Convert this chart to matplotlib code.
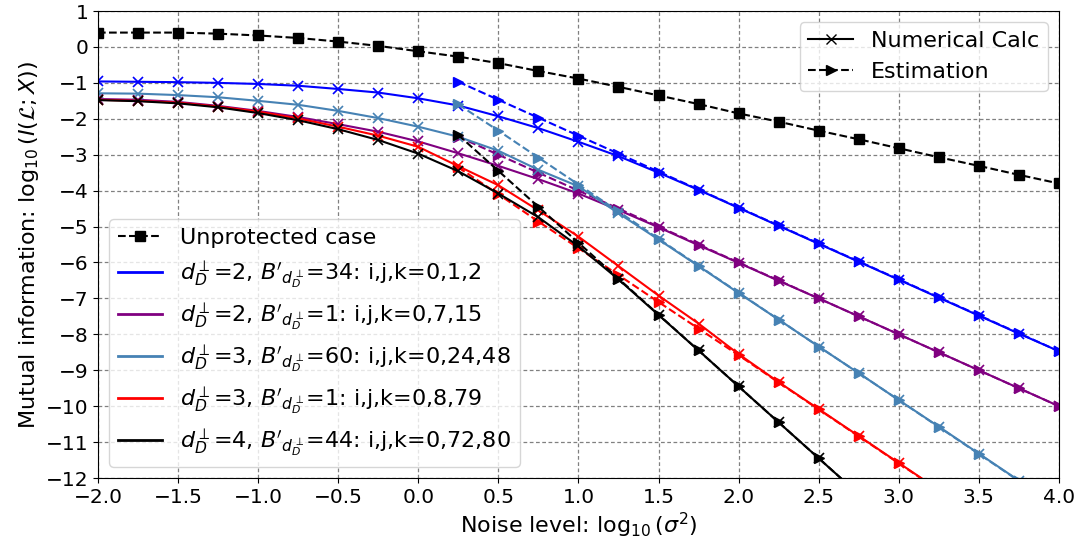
import matplotlib
matplotlib.use("Agg")
import matplotlib.pyplot as plt
from matplotlib.lines import Line2D

# x grid (log10 sigma^2)
x_all = [-2.0, -1.75, -1.5, -1.25, -1.0, -0.75, -0.5, -0.25, 0.0, 0.25, 0.5, 0.75,
         1.0, 1.25, 1.5, 1.75, 2.0, 2.25, 2.5, 2.75, 3.0, 3.25, 3.5, 3.75, 4.0]
x_est = [0.25, 0.5, 0.75, 1.0, 1.25, 1.5, 1.75, 2.0, 2.25, 2.5, 2.75, 3.0,
         3.25, 3.5, 3.75, 4.0]

unprotected = [0.40, 0.40, 0.40, 0.37, 0.32, 0.25, 0.15, 0.03, -0.12, -0.27, -0.45, -0.67,
               -0.88, -1.11, -1.35, -1.59, -1.85, -2.08, -2.33, -2.57, -2.82, -3.07, -3.31, -3.56, -3.80]

blue_num = [-0.96, -0.97, -0.98, -1.00, -1.03, -1.08, -1.17, -1.27, -1.43, -1.63, -1.93, -2.26,
            -2.64, -3.04, -3.50, -3.98, -4.48, -4.98, -5.48, -5.98, -6.48, -6.98, -7.48, -7.98, -8.47]
blue_est = [-0.97, -1.47, -1.97, -2.47, -2.97, -3.47, -3.97, -4.47, -4.97, -5.47, -5.97, -6.47,
            -6.97, -7.47, -7.97, -8.47]

purple_num = [-1.45, -1.47, -1.53, -1.64, -1.78, -1.95, -2.15, -2.36, -2.63, -2.96, -3.31, -3.68,
              -4.08, -4.54, -5.02, -5.52, -6.01, -6.51, -7.00, -7.50, -8.00, -8.50, -9.00, -9.50, -10.00]
purple_est = [-2.50, -3.00, -3.50, -4.00, -4.50, -5.00, -5.50, -6.00, -6.50, -7.00, -7.50, -8.00,
              -8.50, -9.00, -9.50, -10.00]

steel_num = [-1.29, -1.30, -1.34, -1.40, -1.50, -1.61, -1.78, -1.98, -2.22, -2.50, -2.89, -3.42,
             -3.88, -4.63, -5.36, -6.10, -6.85, -7.59, -8.34, -9.08, -9.83, -10.57, -11.32, -12.07]
steel_est = [-1.60, -2.33, -3.08, -3.83, -4.58, -5.34, -6.09, -6.84, -7.59, -8.34, -9.08, -9.83,
             -10.58, -11.33, -12.08]

red_num = [-1.47, -1.50, -1.55, -1.66, -1.80, -1.99, -2.22, -2.47, -2.78, -3.32, -3.85, -4.55,
           -5.28, -6.10, -6.92, -7.70, -8.55, -9.33, -10.08, -10.83, -11.58, -12.33]
red_est = [-3.35, -4.10, -4.86, -5.60, -6.35, -7.10, -7.84, -8.58, -9.34, -10.09, -10.84, -11.59,
           -12.34]

black_num = [-1.48, -1.51, -1.57, -1.68, -1.84, -2.04, -2.29, -2.59, -2.97, -3.46, -4.08, -4.74,
             -5.55, -6.47, -7.46, -8.45, -9.45, -10.45, -11.45, -12.45]
black_est = [-2.45, -3.45, -4.45, -5.45, -6.45, -7.45, -8.45, -9.45, -10.45, -11.45, -12.45]

series = [
    (blue_num, blue_est, "blue", r"$d_D^\perp$=2, $B'_{d_D^\perp}$=34: i,j,k=0,1,2"),
    (purple_num, purple_est, "purple", r"$d_D^\perp$=2, $B'_{d_D^\perp}$=1: i,j,k=0,7,15"),
    (steel_num, steel_est, "steelblue", r"$d_D^\perp$=3, $B'_{d_D^\perp}$=60: i,j,k=0,24,48"),
    (red_num, red_est, "red", r"$d_D^\perp$=3, $B'_{d_D^\perp}$=1: i,j,k=0,8,79"),
    (black_num, black_est, "black", r"$d_D^\perp$=4, $B'_{d_D^\perp}$=44: i,j,k=0,72,80"),
]

fig = plt.figure(figsize=(10.92, 5.49), dpi=100)
ax = fig.add_axes([0.0897, 0.1293, 0.880, 0.8506])

ax.grid(True, color="gray", linestyle=(0, (3, 2)), linewidth=0.9)
ax.set_axisbelow(True)

h_unprot, = ax.plot(x_all, unprotected, "s--", color="black", markersize=6.5, linewidth=1.5,
                    label="Unprotected case")
handles = [h_unprot]
for num, est, col, lab in series:
    ax.plot(x_all[:len(num)], num, "x-", color=col, markersize=7, linewidth=1.5,
            markeredgewidth=1.2)
    ax.plot(x_est[:len(est)], est, ">--", color=col, markersize=7, linewidth=1.5)
    handles.append(Line2D([], [], color=col, linewidth=2, label=lab))

ax.set_xlim(-2, 4)
ax.set_ylim(-12, 1)
ax.set_xticks([-2.0, -1.5, -1.0, -0.5, 0.0, 0.5, 1.0, 1.5, 2.0, 2.5, 3.0, 3.5, 4.0])
ax.set_yticks(list(range(-12, 2)))
ax.tick_params(labelsize=14.5)
ax.set_xlabel(r"Noise level: $\log_{10}(\sigma^2)$", fontsize=16, labelpad=3)
ax.set_ylabel(r"Mutual information: $\log_{10}(I(\mathcal{L};X))$", fontsize=16, labelpad=3)

leg1 = ax.legend(handles=[Line2D([], [], color="black", marker="x", linestyle="-", markersize=7),
                          Line2D([], [], color="black", marker=">", linestyle="--", markersize=7)],
                 labels=["Numerical Calc", "Estimation"], loc="upper right", fontsize=16)
ax.add_artist(leg1)
ax.legend(handles=handles, loc="lower left", fontsize=16, handlelength=2.0)

fig.savefig("out.png", dpi=100)
